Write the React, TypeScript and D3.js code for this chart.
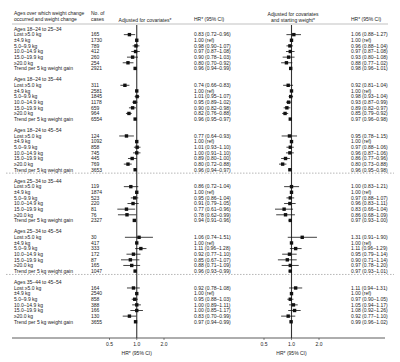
import { useEffect, useRef } from 'react';
import * as d3 from 'd3';

const groups = [
  'Ages 18–24 to 25–34',
  'Ages 18–24 to 35–44',
  'Ages 18–24 to 45–54',
  'Ages 25–34 to 35–44',
  'Ages 25–34 to 45–54',
  'Ages 35–44 to 45–54',
];
const rowLabels = ['Lost ≥5.0 kg', '±4.9 kg', '5.0–9.9 kg', '10.0–14.9 kg', '15.0–19.9 kg', '≥20.0 kg', 'Trend per 5 kg weight gain'];

const cases = [
  [165, 1730, 789, 412, 260, 254, 2921],
  [311, 2581, 1845, 1178, 659, 964, 6554],
  [124, 1092, 858, 745, 445, 769, 3653],
  [119, 1874, 523, 220, 81, 76, 2327],
  [30, 417, 333, 172, 87, 165, 1047],
  [164, 2540, 858, 388, 166, 130, 3655],
];

// adjusted for covariates
const hrCov = [
  [0.83, 1, 0.98, 0.97, 0.9, 0.8, 0.96],
  [0.74, 1, 1.01, 0.95, 0.9, 0.82, 0.96],
  [0.77, 1, 1.01, 1.0, 0.89, 0.8, 0.96],
  [0.86, 1, 0.95, 0.91, 0.77, 0.78, 0.94],
  [1.06, 1, 1.11, 0.92, 0.85, 0.88, 0.96],
  [0.92, 1, 0.95, 1.0, 1.0, 0.83, 0.97],
];
const lowCov = [
  [0.72, null, 0.9, 0.87, 0.78, 0.7, 0.94],
  [0.66, null, 0.95, 0.89, 0.82, 0.76, 0.95],
  [0.64, null, 0.93, 0.91, 0.8, 0.72, 0.94],
  [0.72, null, 0.86, 0.79, 0.61, 0.62, 0.91],
  [0.74, null, 0.96, 0.77, 0.67, 0.71, 0.93],
  [0.78, null, 0.88, 0.89, 0.85, 0.7, 0.94],
];
const highCov = [
  [0.96, null, 1.07, 1.08, 1.03, 0.92, 0.99],
  [0.83, null, 1.07, 1.02, 0.98, 0.88, 0.97],
  [0.93, null, 1.1, 1.1, 1.0, 0.88, 0.97],
  [1.04, null, 1.04, 1.05, 0.96, 0.99, 0.96],
  [1.51, null, 1.28, 1.1, 1.07, 1.09, 0.99],
  [1.08, null, 1.03, 1.11, 1.17, 0.99, 0.99],
];

// adjusted for covariates and starting weight
const hrWt = [
  [1.06, 1, 0.96, 0.97, 0.93, 0.88, 0.98],
  [0.92, 1, 0.98, 0.93, 0.89, 0.85, 0.97],
  [0.95, 1, 0.97, 0.96, 0.86, 0.8, 0.96],
  [1.0, 1, 0.97, 0.96, 0.83, 0.86, 0.97],
  [1.31, 1, 1.11, 0.95, 0.9, 0.97, 0.97],
  [1.11, 1, 0.97, 1.05, 1.08, 0.92, 0.99],
];
const lowWt = [
  [0.88, null, 0.88, 0.87, 0.8, 0.77, 0.96],
  [0.81, null, 0.93, 0.87, 0.82, 0.79, 0.96],
  [0.78, null, 0.88, 0.87, 0.77, 0.73, 0.95],
  [0.83, null, 0.88, 0.83, 0.66, 0.68, 0.93],
  [0.91, null, 0.96, 0.79, 0.71, 0.78, 0.93],
  [0.94, null, 0.9, 0.94, 0.92, 0.77, 0.96],
];
const highWt = [
  [1.27, null, 1.04, 1.08, 1.08, 1.02, 1.01],
  [1.04, null, 1.04, 0.99, 0.97, 0.92, 0.98],
  [1.15, null, 1.06, 1.06, 0.96, 0.88, 0.98],
  [1.21, null, 1.07, 1.11, 1.04, 1.09, 1.0],
  [1.9, null, 1.29, 1.14, 1.14, 1.2, 1.01],
  [1.31, null, 1.05, 1.17, 1.26, 1.1, 1.02],
];

const ticks = [0.5, 1, 2];
const tickLabels = ['0.5', '1.0', '2.0'];
const dividersAfter = [2, 4]; // dashed line after these group indexes

const W = 400;
const H = 362;
const FONT = '"Liberation Sans", Arial, Helvetica, sans-serif';

export default function App() {
  const svgRef = useRef<SVGSVGElement>(null);

  useEffect(() => {
    if (!svgRef.current) return;
    const svg = d3.select(svgRef.current);
    svg.selectAll('*').remove();

    const top = 29;
    const step = 5.63;
    const rowY = (g: number, r: number) => top + (g * 9 + r) * step;
    const axisY = 338;
    const lineTop = 25;

    const x1 = d3.scaleLog().domain([0.5, 2]).range([109.5, 164]);
    const x2 = d3.scaleLog().domain([0.5, 2]).range([264, 319]);

    const txt = (x: number, y: number, s: string, anchor = 'start') =>
      svg.append('text')
        .attr('x', x)
        .attr('y', y)
        .attr('dy', '0.35em')
        .attr('text-anchor', anchor)
        .attr('font-size', '5px')
        .attr('fill', '#222')
        .style('font-family', FONT)
        .text(s);

    // headers
    txt(14, 13, 'Ages over which weight change');
    txt(14, 19, 'occurred and weight change');
    txt(91, 13, 'No. of');
    txt(91, 19, 'cases');
    txt(145, 20, 'Adjusted for covariates*', 'middle');
    txt(194, 19, 'HR* (95% CI)');
    txt(293, 14, 'Adjusted for covariates', 'middle');
    txt(293, 20, 'and starting weight*', 'middle');
    txt(351, 19, 'HR* (95% CI)');

    svg.append('line')
      .attr('x1', 12).attr('x2', 388)
      .attr('y1', 24).attr('y2', 24)
      .attr('stroke', '#999').attr('stroke-width', 0.6);

    // dashed dividers
    dividersAfter.forEach(g => {
      const y = rowY(g, 7) + step * 0.6;
      svg.append('line')
        .attr('x1', 6).attr('x2', 394)
        .attr('y1', y).attr('y2', y)
        .attr('stroke', '#888')
        .attr('stroke-width', 0.6)
        .attr('stroke-dasharray', '1.5,1.5');
    });

    const fmt = (hr: number, lo: number | null, hi: number | null) =>
      lo == null || hi == null ? `${hr.toFixed(2)} (ref)` : `${hr.toFixed(2)} (${lo.toFixed(2)}–${hi.toFixed(2)})`;

    // reference lines
    [x1, x2].forEach(x => {
      svg.append('line')
        .attr('x1', x(1)).attr('x2', x(1))
        .attr('y1', lineTop).attr('y2', axisY)
        .attr('stroke', '#333').attr('stroke-width', 1.1);
    });

    const drawMark = (x: d3.ScaleLogarithmic<number, number>, y: number, hr: number, lo: number | null, hi: number | null) => {
      if (lo != null && hi != null) {
        svg.append('line')
          .attr('x1', x(lo)).attr('x2', x(hi))
          .attr('y1', y).attr('y2', y)
          .attr('stroke', '#111').attr('stroke-width', 0.8);
      }
      const s = 3.4;
      svg.append('rect')
        .attr('x', x(hr) - s / 2).attr('y', y - s / 2)
        .attr('width', s).attr('height', s)
        .attr('fill', '#111');
    };

    groups.forEach((g, gi) => {
      txt(14, rowY(gi, 0), g);
      rowLabels.forEach((label, ri) => {
        const y = rowY(gi, ri + 1);
        txt(14, y, label);
        txt(91, y, String(cases[gi][ri]));
        txt(194, y, fmt(hrCov[gi][ri], lowCov[gi][ri], highCov[gi][ri]));
        txt(351, y, fmt(hrWt[gi][ri], lowWt[gi][ri], highWt[gi][ri]));
        drawMark(x1, y, hrCov[gi][ri], lowCov[gi][ri], highCov[gi][ri]);
        drawMark(x2, y, hrWt[gi][ri], lowWt[gi][ri], highWt[gi][ri]);
      });
    });

    // bottom axis
    svg.append('line')
      .attr('x1', 12).attr('x2', 385)
      .attr('y1', axisY).attr('y2', axisY)
      .attr('stroke', '#333').attr('stroke-width', 0.8);

    [x1, x2].forEach(x => {
      ticks.forEach((t, i) => {
        svg.append('line')
          .attr('x1', x(t)).attr('x2', x(t))
          .attr('y1', axisY).attr('y2', axisY + 2)
          .attr('stroke', '#333').attr('stroke-width', 0.6);
        txt(x(t), axisY + 6, tickLabels[i], 'middle');
      });
      txt(x(1), axisY + 15, 'HR* (95% CI)', 'middle');
    });
  }, []);

  return (
    <div style={{ position: 'absolute', left: 0, top: 0, background: '#fff' }}>
      <svg ref={svgRef} width={W} height={H} style={{ display: 'block' }} />
    </div>
  );
}
